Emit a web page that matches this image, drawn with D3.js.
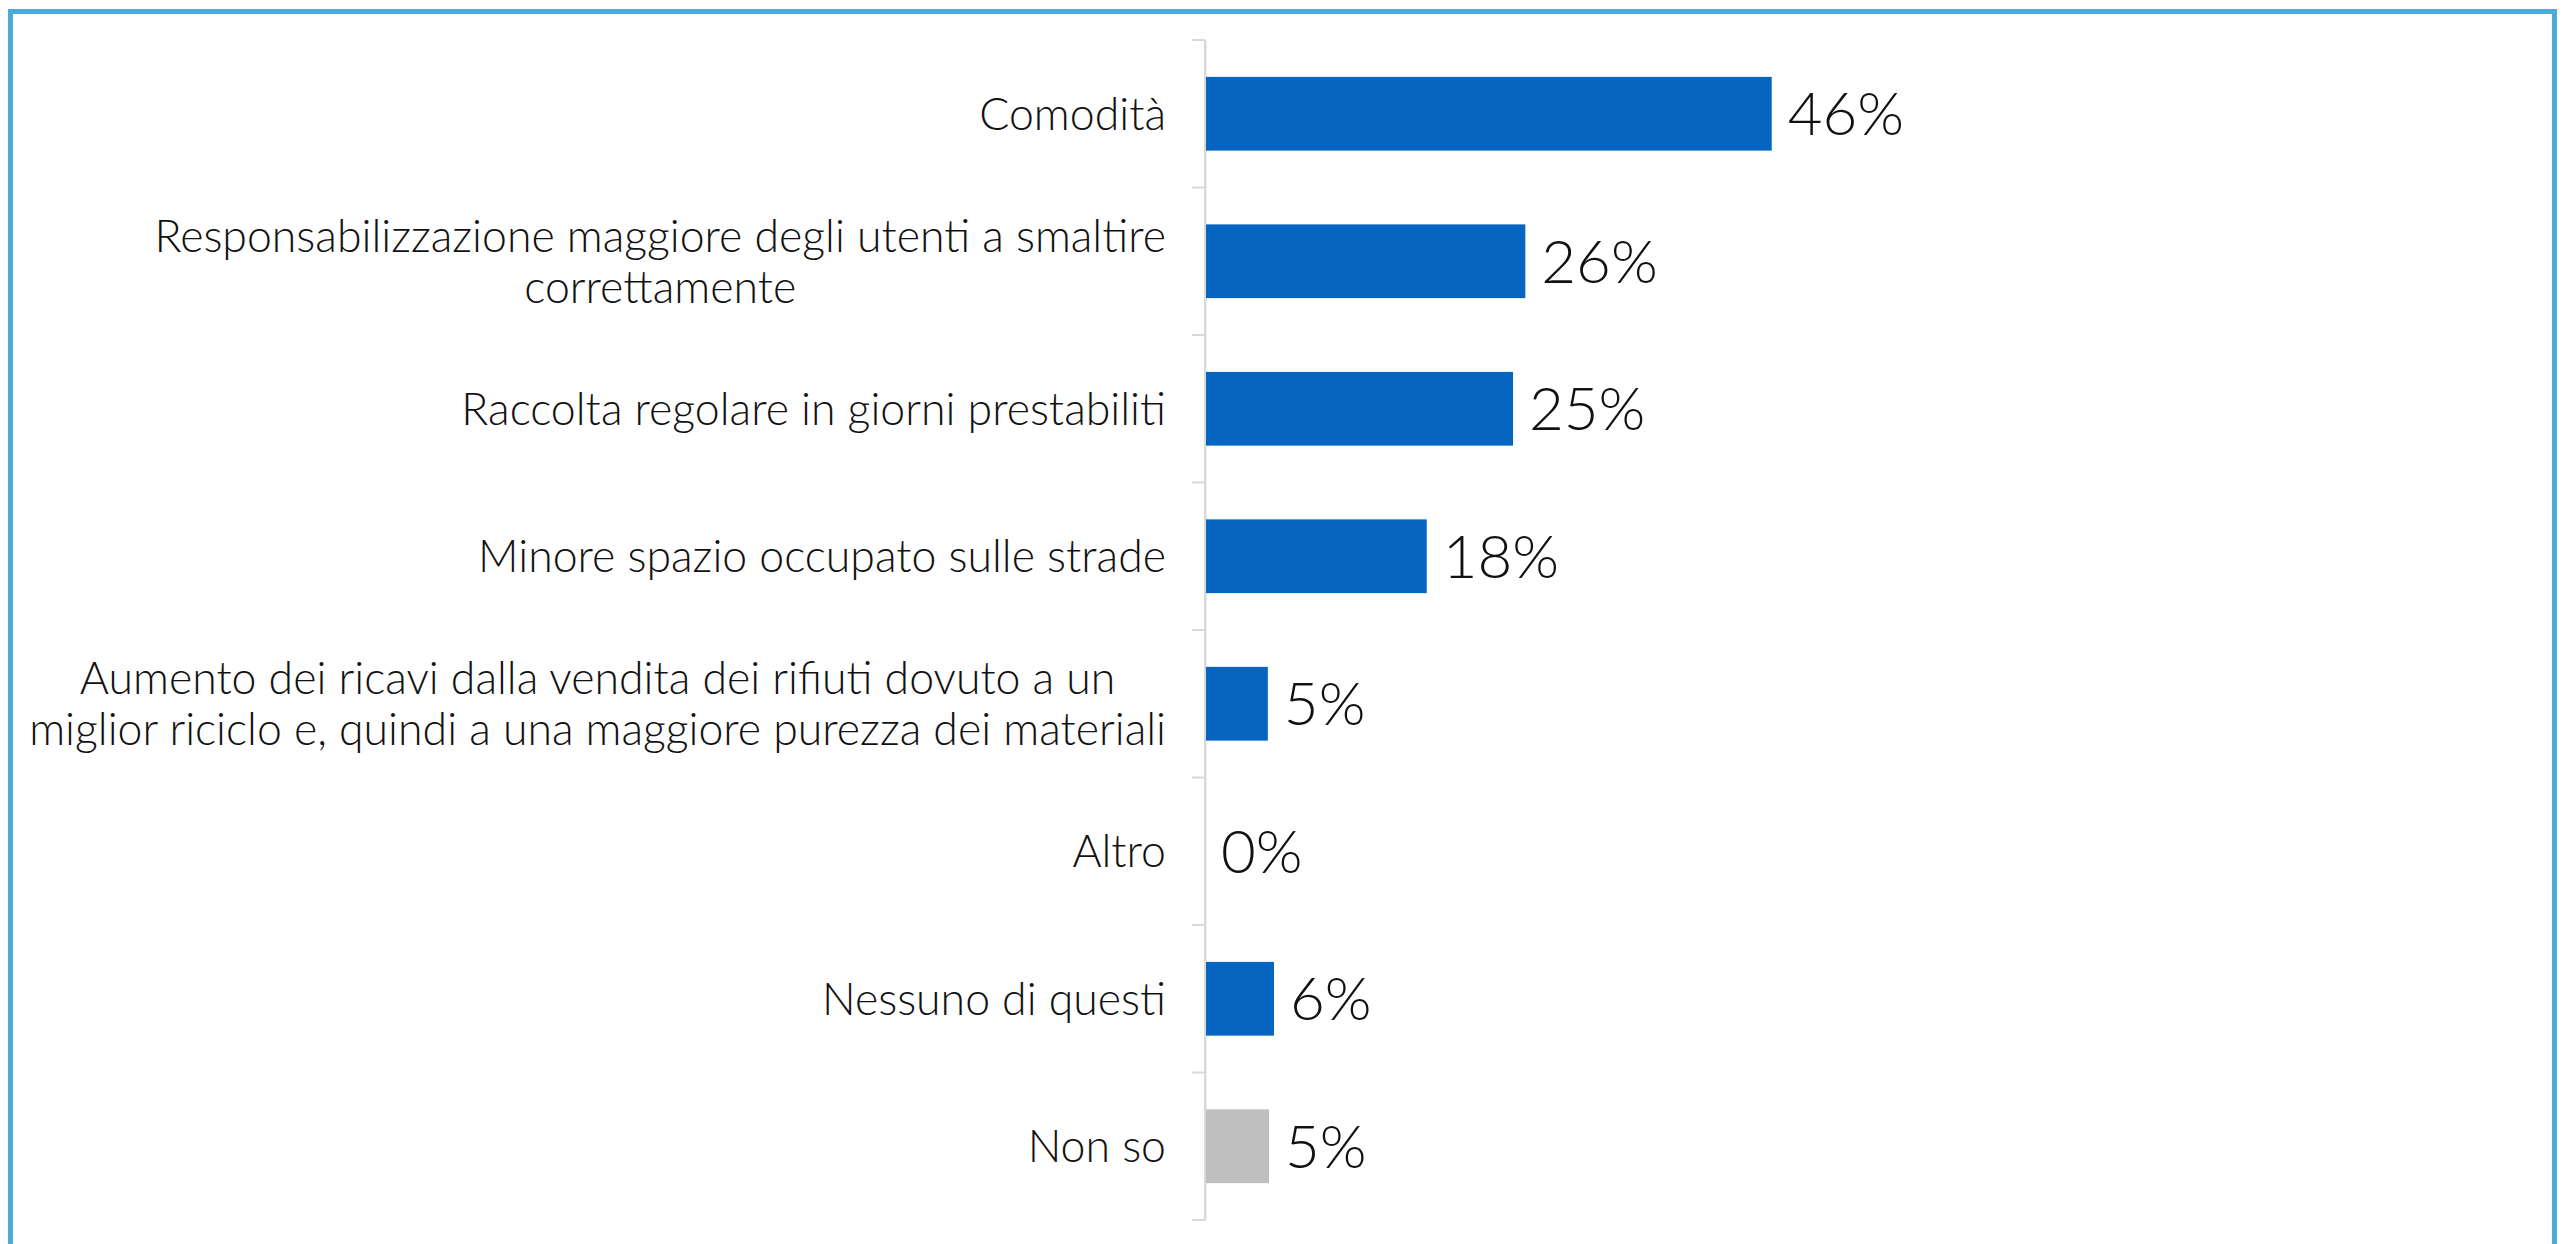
<!DOCTYPE html>
<html>
<head>
<meta charset="utf-8">
<script src="https://cdn.jsdelivr.net/npm/d3@7"></script>
<style>
  html, body { margin: 0; padding: 0; background: #fff; }
  svg { display: block; }
</style>
</head>
<body>
<svg id="chart" width="2566" height="1244"></svg>
<script>
const categories = [
  ["Comodità"],
  ["Responsabilizzazione maggiore degli utenti a smaltire", "correttamente"],
  ["Raccolta regolare in giorni prestabiliti"],
  ["Minore spazio occupato sulle strade"],
  ["Aumento dei ricavi dalla vendita dei rifiuti dovuto a un", "miglior riciclo e, quindi a una maggiore purezza dei materiali"],
  ["Altro"],
  ["Nessuno di questi"],
  ["Non so"]
];
const values = [46, 26, 25, 18, 5.1, 0, 5.6, 5.2];
const barColors = ["#0565C0", "#0565C0", "#0565C0", "#0565C0", "#0565C0", "#0565C0", "#0565C0", "#BFBFBF"];

const W = 2566, H = 1244;
const svg = d3.select("#chart");

// frame
svg.append("rect")
  .attr("x", 10.5).attr("y", 11.5)
  .attr("width", 2544).attr("height", 1260)
  .attr("fill", "none")
  .attr("stroke", "#4AABDB")
  .attr("stroke-width", 5);

const x0 = 1205;
const x = d3.scaleLinear().domain([0, 100]).range([x0, x0 + 1232]);
const y = d3.scaleBand()
  .domain(d3.range(categories.length))
  .range([40, 1220])
  .paddingInner(0.5)
  .paddingOuter(0.25);

// axis
const axis = d3.axisLeft(y).tickSize(0).tickFormat("");
const gAxis = svg.append("g").attr("transform", `translate(${x0},0)`).call(axis);
gAxis.select(".domain").attr("stroke", "#D9D9D9").attr("stroke-width", 2);
// boundary ticks between categories
const step = y.step();
const boundaries = d3.range(categories.length + 1).map(i => 40 + i * step);
svg.append("g").selectAll("line").data(boundaries).join("line")
  .attr("x1", x0 - 13).attr("x2", x0)
  .attr("y1", d => d).attr("y2", d => d)
  .attr("stroke", "#D9D9D9").attr("stroke-width", 2);
svg.append("line")
  .attr("x1", x0).attr("x2", x0).attr("y1", 40).attr("y2", 1220)
  .attr("stroke", "#D9D9D9").attr("stroke-width", 2);

// bars
svg.append("g").selectAll("rect").data(values).join("rect")
  .attr("x", x(0) + 1)
  .attr("y", (d, i) => y(i))
  .attr("width", d => Math.max(0, x(d) - x(0) - 1))
  .attr("height", y.bandwidth())
  .attr("fill", (d, i) => barColors[i]);

// value labels
const fmt = d => d3.format(".0f")(d) + "%";
svg.append("g").selectAll("text").data(values).join("text")
  .attr("x", d => x(d) + 16)
  .attr("y", (d, i) => y(i) + y.bandwidth() / 2)
  .attr("dy", "0.36em")
  .attr("font-family", "Lato, 'Open Sans', sans-serif")
  .attr("font-weight", 300)
  .attr("font-size", 60)
  .attr("fill", "#111")
  .text(d => fmt(d));

// category labels
const sx = 0.97;
const labelRight = 1166;
const lineGap = 51;
const labG = svg.append("g");
categories.forEach((lines, i) => {
  const cy = y(i) + y.bandwidth() / 2;
  const g = labG.append("g").attr("transform", `translate(${labelRight},${cy}) scale(${sx},1)`);
  const t = g.append("text")
    .attr("font-family", "Lato, 'Open Sans', sans-serif")
    .attr("font-weight", 300)
    .attr("font-size", 46)
    .attr("fill", "#111")
    .attr("text-anchor", "middle");
  const n = lines.length;
  const spans = lines.map((s, k) => t.append("tspan")
    .attr("y", (k - (n - 1) / 2) * lineGap)
    .attr("dy", "0.35em")
    .text(s));
  const maxW = d3.max(spans, sp => sp.node().getComputedTextLength());
  spans.forEach(sp => sp.attr("x", -maxW / 2));
});
</script>
</body>
</html>
